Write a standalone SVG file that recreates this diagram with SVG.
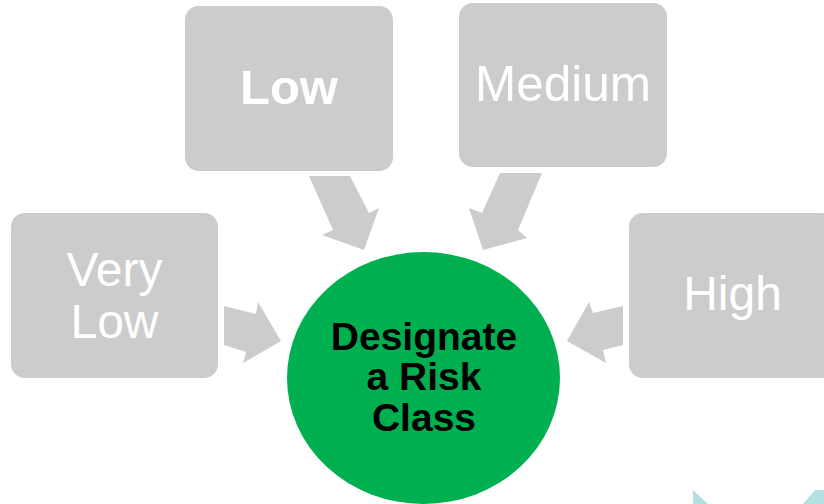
<svg xmlns="http://www.w3.org/2000/svg" width="824" height="504" viewBox="0 0 824 504">
  <style>
    .box { fill: #cccccc; }
    .arrow { fill: #cccccc; }
    .lbl { font-family: "Liberation Sans", Arial, sans-serif; fill: #ffffff; text-anchor: middle; }
    .hub { fill: #00b050; }
    .hubtxt { font-family: "Liberation Sans", Arial, sans-serif; font-weight: bold; font-size: 39px; fill: #000000; text-anchor: middle; }
    .deco { fill: #b4e0e2; }
  </style>
  <rect width="824" height="504" fill="#ffffff"/>

  <!-- connectors: block arrows pointing at the central circle -->
  <g id="connectors">
    <polygon class="arrow" points="224,306 256,314 258,302 281,341 243,363 246,352 224,345"/>
    <polygon class="arrow" points="623,306 593,313 589,302 567,341 606,363 603,350 623,345"/>
    <polygon class="arrow" points="309,176 350,176 369,213 379,208 364,250 322,235 333,230"/>
    <polygon class="arrow" points="500,173 542,173 518,230 527,238 483,250 469,208 482,213"/>
  </g>

  <g id="node-very-low">
    <rect class="box" x="11" y="213" width="207" height="165" rx="14"/>
    <text class="lbl" x="114.5" y="286" font-size="48">Very</text>
    <text class="lbl" x="114.5" y="338" font-size="48">Low</text>
  </g>

  <g id="node-low">
    <rect class="box" x="185" y="6" width="208" height="165" rx="14"/>
    <text class="lbl" x="289" y="104" font-size="49" font-weight="bold">Low</text>
  </g>

  <g id="node-medium">
    <rect class="box" x="459" y="3" width="208" height="164" rx="14"/>
    <text class="lbl" x="563" y="101" font-size="49.5">Medium</text>
  </g>

  <g id="node-high">
    <rect class="box" x="629" y="213" width="207" height="165" rx="14"/>
    <text class="lbl" x="732.5" y="310" font-size="48">High</text>
  </g>

  <g id="node-designate">
    <ellipse class="hub" cx="423.5" cy="378" rx="136.5" ry="126"/>
    <text class="hubtxt" x="424" y="350">Designate</text>
    <text class="hubtxt" x="424" y="390">a Risk</text>
    <text class="hubtxt" x="424" y="431">Class</text>
  </g>

  <!-- light teal shapes at the lower right edge -->
  <polygon class="deco" points="693,490 708,504 693,504"/>
  <polygon class="deco" points="815,490 824,490 824,504 803,504"/>
</svg>
